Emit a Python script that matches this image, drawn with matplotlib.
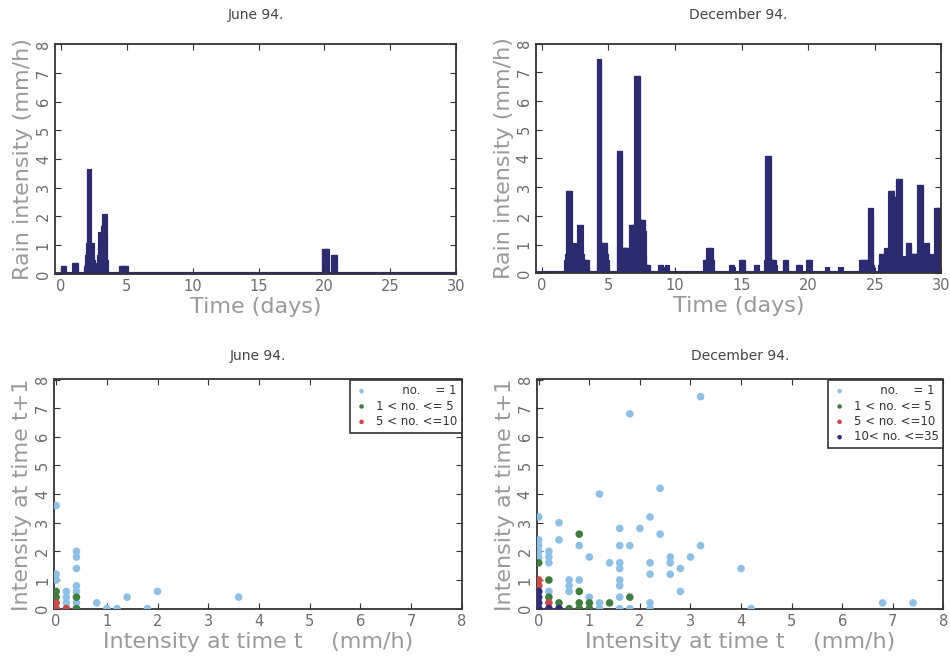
import numpy as np
import matplotlib.pyplot as plt

# hourly rain-gauge record, only the wet hours are listed (hour of month, mm/h)
jun_hour = [4, 5, 6, 25, 26, 27, 28, 29,
            46, 47, 48, 49, 50, 51, 52, 53, 54, 55, 56, 57, 58, 59, 60, 61, 62, 63,
            67, 68, 69, 70, 71, 72, 73, 74, 75, 76, 77, 78, 79, 80, 81, 82, 83,
            109, 110, 111, 112, 113, 114, 115, 116, 117, 118, 119,
            479, 480, 481, 482, 483, 484, 485, 486, 497, 498, 499, 500, 501]
jun_rain = [0.2, 0.2, 0.2, 0.3, 0.3, 0.3, 0.3, 0.3,
            0.2, 0.4, 0.6, 0.8, 1.0, 3.6, 3.6, 1.0, 1.0, 1.0, 0.8, 1.0, 0.6, 0.4, 0.3, 0.3, 0.2, 0.2,
            0.2, 0.2, 0.4, 0.6, 1.0, 1.4, 1.4, 1.2, 1.0, 1.4, 1.6, 1.8, 2.0, 2.0, 2.0, 1.4, 0.4,
            0.2, 0.2, 0.2, 0.2, 0.2, 0.2, 0.2, 0.2, 0.2, 0.2, 0.2,
            0.8, 0.8, 0.8, 0.8, 0.8, 0.8, 0.8, 0.8, 0.6, 0.6, 0.6, 0.6, 0.6]

dec_hour = [45, 46, 47, 48, 49, 50, 51, 52, 53, 54, 55, 56, 57, 58, 59, 60, 61, 62, 63, 64, 65, 66,
            67, 68, 69, 70, 71, 72, 73, 74, 75, 76, 77, 78, 79, 80, 81, 82, 83,
            103, 104, 105, 106, 107, 108, 109, 110, 111, 112, 113, 114, 115, 116, 117, 118, 119,
            139, 140, 141, 142, 143, 144, 145, 146, 147, 148, 149, 150, 151, 152, 153, 154, 155,
            156, 157, 158, 159, 160, 161, 162, 163, 164, 165, 166, 167, 168, 169, 170, 171, 172,
            173, 174, 175, 176, 177, 178, 179, 180, 181, 182, 183, 184, 185, 186, 187, 188, 189,
            190, 191, 192, 193, 214, 216, 218, 220, 222, 224, 226,
            295, 296, 297, 298, 299, 300, 301, 302, 303, 304, 305, 306, 307, 308,
            342, 344, 346, 360, 361, 362, 363, 364, 387, 389,
            405, 406, 407, 408, 409, 410, 411, 412, 413, 414, 415, 416, 417, 418, 419, 420, 421,
            438, 439, 440, 441, 442, 462, 464, 466, 480, 481, 482, 483, 484, 514, 516, 537, 539, 541,
            576, 578, 580, 582, 583, 584, 585, 586, 587, 588, 589, 590, 591, 592, 593, 594, 595, 596,
            610, 611, 612, 613, 614, 615, 616, 617, 618, 619, 620, 621, 622, 623, 624, 625, 626, 627,
            628, 629, 630, 631, 632, 633, 634, 635, 636, 637, 638, 639, 640, 641, 642, 643, 644, 645,
            646, 647, 648, 649, 650, 651, 652, 653, 654, 655, 656, 657, 658, 659, 660, 661, 662, 663,
            664, 665, 666, 667, 668, 669, 670, 671, 672, 673, 674, 675, 676, 677, 678, 679, 680, 681,
            682, 683, 684, 685, 686, 687, 688, 689, 690, 691, 692, 693, 694, 695, 696, 697, 698, 699,
            700, 701, 702, 703, 704, 705, 706, 707, 708, 709, 710, 711, 712, 713, 714, 715, 716, 717,
            718, 719]
dec_rain = [0.4, 0.6, 0.6, 2.8, 2.8, 2.8, 2.8, 2.8, 0.6, 0.8, 0.6, 0.8, 0.6, 1.0, 1.0, 1.0, 0.8, 0.6, 0.8, 0.6, 0.4, 0.6,
            0.8, 1.6, 1.6, 1.6, 1.6, 1.6, 0.6, 0.4, 0.4, 0.4, 0.4, 0.4, 0.4, 0.4, 0.4, 0.4, 0.2,
            7.4, 7.4, 7.4, 1.0, 0.8, 1.0, 0.6, 1.0, 1.0, 1.0, 1.0, 1.0, 1.0, 1.0, 0.6, 0.4, 0.2,
            4.2, 4.2, 4.2, 4.2, 4.2, 0.6, 0.8, 0.8, 0.8, 0.8, 0.8, 0.8, 0.8, 0.8, 0.8, 0.8, 0.8,
            0.8, 0.8, 0.6, 0.8, 0.6, 0.4, 1.6, 1.6, 1.6, 1.6, 1.4, 1.6, 0.8, 1.6, 1.2, 6.8, 6.8,
            6.8, 6.8, 6.8, 1.8, 1.8, 1.8, 1.8, 1.8, 1.8, 1.8, 1.8, 1.8, 1.4, 0.6, 0.2, 0.2, 0.2,
            0.2, 0.2, 0.2, 0.2, 0.2, 0.2, 0.2, 0.2, 0.2, 0.2, 0.2,
            0.4, 0.4, 0.4, 0.4, 0.4, 0.8, 0.8, 0.8, 0.8, 0.8, 0.8, 0.8, 0.8, 0.4,
            0.2, 0.2, 0.2, 0.4, 0.4, 0.4, 0.4, 0.4, 0.2, 0.2,
            0.4, 4.0, 4.0, 4.0, 4.0, 4.0, 4.0, 0.4, 0.4, 0.4, 0.4, 0.4, 0.4, 0.4, 0.4, 0.4, 0.2,
            0.4, 0.4, 0.4, 0.4, 0.4, 0.2, 0.2, 0.2, 0.4, 0.4, 0.4, 0.4, 0.4, 0.2, 0.2, 0.2, 0.2, 0.2,
            0.4, 0.4, 0.4, 0.4, 0.4, 0.4, 0.4, 0.4, 0.4, 0.2, 0.2, 0.2, 2.2, 2.2, 2.2, 2.2, 2.2, 0.2,
            0.2, 0.6, 0.6, 0.6, 0.6, 0.6, 0.6, 0.4, 0.6, 0.4, 0.8, 0.8, 0.6, 0.4, 0.6, 0.8, 0.6, 0.6,
            2.8, 2.8, 2.8, 2.8, 2.8, 2.8, 2.6, 2.6, 2.6, 2.6, 0.8, 0.6, 0.8, 1.0, 3.2, 3.2, 3.2, 3.2,
            3.2, 0.6, 0.4, 0.2, 0.4, 0.6, 0.4, 0.2, 0.6, 0.4, 0.6, 0.4, 0.6, 0.4, 1.0, 1.0, 1.0, 1.0,
            0.6, 0.6, 0.6, 0.6, 0.6, 0.6, 0.6, 0.6, 0.6, 0.6, 0.6, 0.6, 0.6, 0.6, 0.6, 0.6, 3.0, 3.0,
            3.0, 3.0, 3.0, 3.0, 0.2, 0.2, 0.2, 0.2, 0.2, 0.2, 0.4, 1.0, 1.0, 1.0, 1.0, 0.6, 0.4, 0.6,
            0.2, 0.4, 0.4, 0.2, 0.6, 0.4, 0.2, 0.4, 0.2, 0.4, 0.2, 2.2, 2.2, 2.2, 2.2, 2.2, 2.2, 2.2,
            2.2, 2.2]

# intensity at t vs t+1, grouped by how many hours share the pair
jun_x1 = [0, 0, 0, 0.2, 0.2, 0.2, 0.4, 0.4, 0.4, 0.4, 0.4, 0.4, 0.4, 0.8, 1.0, 1.2, 1.4, 1.8, 2.0, 3.6]
jun_y1 = [3.6, 1.2, 1.0, 0.6, 0.4, 0.2, 2.0, 1.8, 1.4, 0.8, 0.6, 0.2, 0.0, 0.2, 0.0, 0.0, 0.4, 0.0, 0.6, 0.4]
jun_x5 = [0, 0, 0.4, 0.4]
jun_y5 = [0.6, 0.4, 0.4, 0.0]
jun_x10 = [0, 0.2, 0]
jun_y10 = [0.2, 0.0, 0.0]

dec_x1 = [3.2, 1.8, 1.2, 2.4, 0, 0.4, 0.4, 2.2, 2.0, 1.6, 2.4, 0.8, 1.6, 1.8, 3.2,
          0.2, 0.2, 0.2, 0, 0, 0, 0, 1.0, 1.4, 1.6, 1.6, 2.2, 2.6, 2.6, 3.0, 2.8,
          2.2, 2.6, 4.0, 0.6, 0.6, 0.6, 0.8, 1.6, 1.6, 0.2, 2.8, 1.0, 1.6, 1.2, 2.2,
          6.8, 7.4, 4.2, 1.6, 1.8, 2.2, 1.2]
dec_y1 = [7.4, 6.8, 4.0, 4.2, 3.2, 3.0, 2.4, 3.2, 2.8, 2.8, 2.6, 2.2, 2.2, 2.2, 2.2,
          2.0, 1.8, 1.6, 2.4, 2.2, 2.0, 1.8, 1.8, 1.6, 1.6, 1.4, 1.6, 1.8, 1.6, 1.8, 1.4,
          1.2, 1.2, 1.4, 1.0, 0.8, 0.6, 1.0, 1.0, 0.8, 0.6, 0.6, 0.4, 0.4, 0.2, 0.2,
          0.2, 0.2, 0.0, 0.0, 0.0, 0.0, 0.0]
dec_x5 = [0.8, 0, 0.2, 0.8, 0.2, 1.8, 0.4, 0.8, 1.0, 1.4, 0.8, 1.0, 0.6]
dec_y5 = [2.6, 1.6, 1.0, 0.6, 0.4, 0.4, 0.2, 0.2, 0.2, 0.2, 0.0, 0.0, 0.0]
dec_x10 = [0, 0, 0.2]
dec_y10 = [1.0, 0.8, 0.2]
dec_x35 = [0, 0, 0, 0, 0.2, 0.4]
dec_y35 = [0.6, 0.4, 0.2, 0.0, 0.0, 0.0]

navy = '#2b2b6e'
c1, c5, c10, c35 = '#8dc0e4', '#3f7d3f', '#c84a4a', '#2e2e78'
frame = '#333333'
lab_col = '#999999'
tick_col = '#6a6a6a'

lab1 = '       no.    = 1'
lab5 = '1 < no. <= 5'
lab10 = '5 < no. <=10'
lab35 = '10< no. <=35'


def hourly(hours, rain):
    r = np.zeros(720)
    r[np.array(hours)] = rain
    return np.arange(720) / 24.0, r


def style(ax, xmax, xstep, xlabel, ylabel, title, tpad):
    for s in ax.spines.values():
        s.set_color(frame)
        s.set_linewidth(1.3)
    ax.set_xticks(np.arange(0, xmax + 1, xstep))
    ax.set_yticks(np.arange(0, 9, 1))
    ax.tick_params(direction='in', length=4, width=0.8, color=frame,
                   top=True, right=True, labelsize=10.5, labelcolor=tick_col)
    ax.tick_params(axis='y', labelrotation=90, pad=3)
    for t in ax.get_yticklabels():
        t.set_va('center')
    ax.set_xlabel(xlabel, fontsize=16, color=lab_col, labelpad=2)
    ax.set_ylabel(ylabel, fontsize=16, color=lab_col, labelpad=2)
    ax.set_title(title, fontsize=10, color='#444444', pad=tpad)


fig = plt.figure(figsize=(9.5, 6.6), dpi=100)
ax1 = fig.add_axes([0.058, 0.585, 0.422, 0.348])
ax2 = fig.add_axes([0.564, 0.586, 0.427, 0.348])
ax3 = fig.add_axes([0.057, 0.077, 0.429, 0.348])
ax4 = fig.add_axes([0.565, 0.077, 0.428, 0.348])

for ax, hrs, rain, ttl in [(ax1, jun_hour, jun_rain, 'June 94.'),
                           (ax2, dec_hour, dec_rain, 'December 94.')]:
    t, r = hourly(hrs, rain)
    ax.bar(t, r, width=1 / 24, color=navy, edgecolor=navy, linewidth=3.0)
    ax.axhline(0, color=navy, lw=3.5)
    ax.set_xlim(-0.45, 30)
    ax.set_ylim(0, 8)
    style(ax, 30, 5, 'Time (days)', 'Rain intensity (mm/h)', ttl, 18)

groups3 = [(jun_x1, jun_y1, c1, lab1), (jun_x5, jun_y5, c5, lab5),
           (jun_x10, jun_y10, c10, lab10)]
groups4 = [(dec_x1, dec_y1, c1, lab1), (dec_x5, dec_y5, c5, lab5),
           (dec_x10, dec_y10, c10, lab10), (dec_x35, dec_y35, c35, lab35)]

for ax, groups, ttl in [(ax3, groups3, 'June 94.'), (ax4, groups4, 'December 94.')]:
    for x, y, c, lab in groups:
        ax.scatter(x, y, s=30, color=c, edgecolors='none', label=lab, zorder=3)
    ax.set_xlim(-0.04, 8)
    ax.set_ylim(-0.02, 8)
    style(ax, 8, 1, 'Intensity at time t    (mm/h)', 'Intensity at time t+1', ttl, 14)
    leg = ax.legend(loc='upper right', borderaxespad=0, fancybox=False,
                    edgecolor=frame, fontsize=8.5, markerscale=0.6,
                    handletextpad=0.6, labelspacing=0.2, borderpad=0.4,
                    handlelength=1.2, framealpha=1)
    leg.get_frame().set_linewidth(1.2)
    for txt in leg.get_texts():
        txt.set_color('#333333')

fig.savefig('out.png', dpi=100)
